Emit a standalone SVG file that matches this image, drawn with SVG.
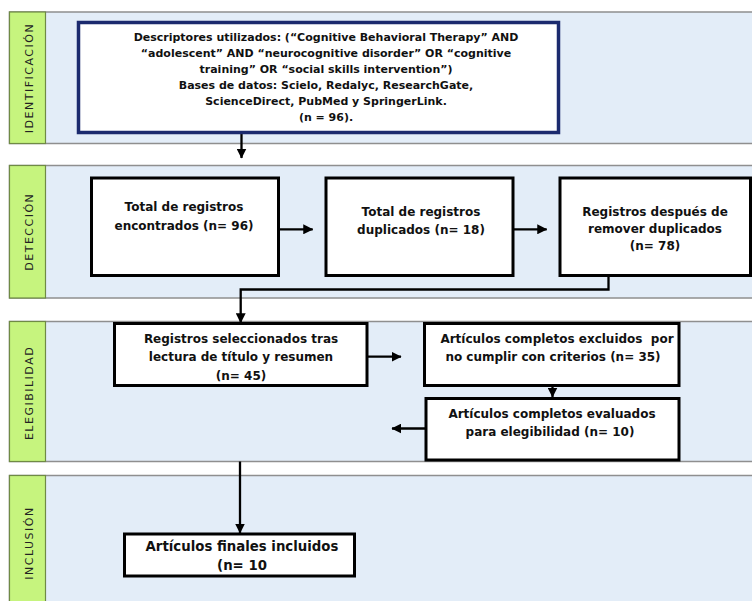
<svg xmlns="http://www.w3.org/2000/svg" width="752" height="601" viewBox="0 0 752 601">
<style>
.band{fill:#e3edf8;stroke:#8f8f8f;stroke-width:1.5}
.tab{fill:#c6f47e;stroke:#6f8a45;stroke-width:1.2}
.lbl{font-family:"DejaVu Sans",sans-serif;font-size:11px;letter-spacing:1.5px;fill:#222;text-anchor:middle}
.box{fill:#fff;stroke:#000;stroke-width:3}
.navy{fill:#fff;stroke:#1b2a6e;stroke-width:3.5}
.t{font-family:"DejaVu Sans",sans-serif;font-weight:bold;font-size:12px;fill:#111;text-anchor:middle}
.t1{font-size:11px}
.tg{font-size:13.3px}
.c{fill:none;stroke:#000;stroke-width:2.3}
</style>
<defs>
<marker id="ah" markerUnits="userSpaceOnUse" markerWidth="10" markerHeight="10" viewBox="0 0 9 9" refX="8.5" refY="4.5" orient="auto">
<path d="M0,0 L9,4.5 L0,9 z" fill="#000"/>
</marker>
</defs>

<g id="band-identificacion">
<rect class="band" x="9.5" y="12" width="760" height="131.5"/>
<rect class="tab" x="9.5" y="12" width="36" height="131.5"/>
<text class="lbl" transform="translate(32.5,78) rotate(-90)">IDENTIFICACIÓN</text>
</g>
<g id="band-deteccion">
<rect class="band" x="9.5" y="165.5" width="760" height="132.5"/>
<rect class="tab" x="9.5" y="165.5" width="36" height="132.5"/>
<text class="lbl" transform="translate(32.5,231.7) rotate(-90)">DETECCIÓN</text>
</g>
<g id="band-elegibilidad">
<rect class="band" x="9.5" y="321.5" width="760" height="140"/>
<rect class="tab" x="9.5" y="321.5" width="36" height="140"/>
<text class="lbl" transform="translate(32.5,393) rotate(-90)">ELEGIBILIDAD</text>
</g>
<g id="band-inclusion">
<rect class="band" x="9.5" y="475.5" width="760" height="140"/>
<rect class="tab" x="9.5" y="475.5" width="36" height="140"/>
<text class="lbl" transform="translate(32.5,543) rotate(-90)">INCLUSIÓN</text>
</g>

<g id="connectors">
<path class="c" d="M241.5,132 V158" marker-end="url(#ah)"/>
<path class="c" d="M279,229.3 H312.7" marker-end="url(#ah)"/>
<path class="c" d="M513,229.3 H546.7" marker-end="url(#ah)"/>
<path class="c" d="M608.5,276 V289.5 H240.7 V322.7" marker-end="url(#ah)"/>
<path class="c" d="M367,356.7 H401" marker-end="url(#ah)"/>
<path class="c" d="M552.5,385.5 V397" marker-end="url(#ah)"/>
<path class="c" d="M426,428.5 H392" marker-end="url(#ah)"/>
<path class="c" d="M240,461.5 V533" marker-end="url(#ah)"/>
</g>

<g id="node-descriptores">
<rect class="navy" x="78.5" y="22.5" width="480" height="110"/>
<text class="t t1" x="326" y="41">Descriptores utilizados: (“Cognitive Behavioral Therapy” AND</text>
<text class="t t1" x="326" y="57">“adolescent” AND “neurocognitive disorder” OR “cognitive</text>
<text class="t t1" x="326" y="73">training” OR “social skills intervention”)</text>
<text class="t t1" x="326" y="89">Bases de datos: Scielo, Redalyc, ResearchGate,</text>
<text class="t t1" x="326" y="105">ScienceDirect, PubMed y SpringerLink.</text>
<text class="t t1" x="326" y="121">(n = 96).</text>
</g>

<g id="node-total-encontrados">
<rect class="box" x="91.5" y="178" width="187" height="97.5"/>
<text class="t" x="184" y="211">Total de registros</text>
<text class="t" x="184" y="229.5">encontrados (n= 96)</text>
</g>

<g id="node-duplicados">
<rect class="box" x="326" y="178" width="187" height="97.5"/>
<text class="t" x="421" y="216">Total de registros</text>
<text class="t" x="421" y="234">duplicados (n= 18)</text>
</g>

<g id="node-despues-duplicados">
<rect class="box" x="560" y="178" width="190.5" height="97.5"/>
<text class="t" x="655" y="216">Registros después de</text>
<text class="t" x="655" y="233">remover duplicados</text>
<text class="t" x="655" y="250">(n= 78)</text>
</g>

<g id="node-seleccionados">
<rect class="box" x="114.5" y="323.5" width="252.5" height="62"/>
<text class="t" x="241" y="342.5">Registros seleccionados tras</text>
<text class="t" x="241" y="361">lectura de título y resumen</text>
<text class="t" x="241" y="379.5">(n= 45)</text>
</g>

<g id="node-excluidos">
<rect class="box" x="424.5" y="323.5" width="254.5" height="62"/>
<text class="t" x="557" y="342.5" xml:space="preserve">Artículos completos excluidos  por</text>
<text class="t" x="553" y="361">no cumplir con criterios (n= 35)</text>
</g>

<g id="node-evaluados">
<rect class="box" x="426" y="398.5" width="253" height="61.5"/>
<text class="t" x="552" y="417.5">Artículos completos evaluados</text>
<text class="t" x="550" y="435.5">para elegibilidad (n= 10)</text>
</g>

<g id="node-finales">
<rect class="box" x="124.5" y="534" width="230" height="42"/>
<text class="t tg" x="242" y="551">Artículos finales incluidos</text>
<text class="t tg" x="242" y="570">(n= 10</text>
</g>
</svg>
